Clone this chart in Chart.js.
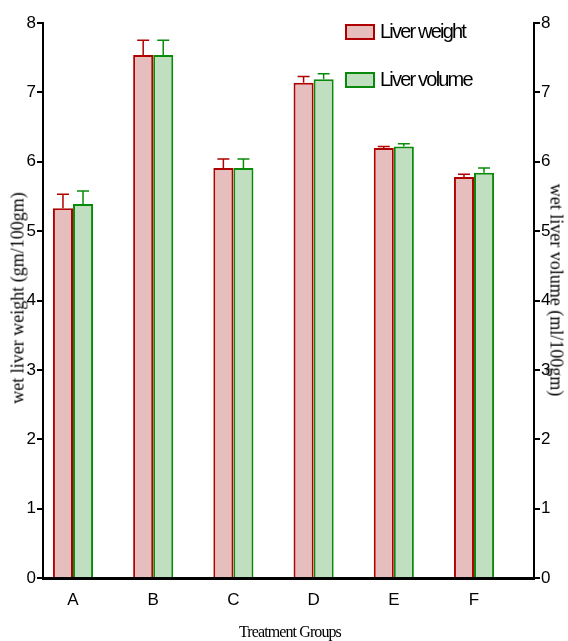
<!DOCTYPE html>
<html>
<head>
<meta charset="utf-8">
<script src="https://cdn.jsdelivr.net/npm/chart.js@4/dist/chart.umd.min.js"></script>
<style>
  body { margin: 0; background: #fff; }
  #wrap { position: relative; width: 568px; height: 641px; }
  .lbl { position: absolute; white-space: nowrap; color: #000; }
  .ytitle { font-family: "Liberation Serif", serif; font-size: 18px; transform: translate(-50%, -50%) rotate(-90deg); }
  .ytitle.right { transform: translate(-50%, -50%) rotate(90deg); }
  .xtitle { font-family: "Liberation Serif", serif; font-size: 16px; letter-spacing: -0.9px; transform: translate(-50%, -50%); }
  .leg { font-family: "Liberation Sans", Arial, sans-serif; font-size: 20px; letter-spacing: -1.8px; display: flex; align-items: center; }
  .leg span.box { display: inline-block; width: 26px; height: 12px; border: 2px solid; margin-right: 5px; }
</style>
</head>
<body>
<div id="wrap">
  <canvas id="chart"></canvas>
</div>
<script>
// categories and series
const groups = ['A', 'B', 'C', 'D', 'E', 'F'];
const weightVals = [5.33, 7.54, 5.91, 7.14, 6.20, 5.78];
const weightErr = [0.20, 0.21, 0.13, 0.09, 0.02, 0.04];
const volumeVals = [5.39, 7.54, 5.91, 7.19, 6.22, 5.84];
const volumeErr = [0.19, 0.21, 0.13, 0.08, 0.04, 0.07];
const yTicks = [0, 1, 2, 3, 4, 5, 6, 7, 8];

const seriesNames = ['Liver weight', 'Liver volume'];
const fills = ['#e6bebe', '#c0dfc0'];
const edges = ['#b00000', '#0a8a0a'];

// draw the error bars (upward only) from the data
const errorBars = {
    id: 'errorBars',
    afterDatasetsDraw(chart) {
        const ctx = chart.ctx;
        const yScale = chart.scales.y;
        chart.data.datasets.forEach((ds, di) => {
            const meta = chart.getDatasetMeta(di);
            meta.data.forEach((bar, i) => {
                const top = yScale.getPixelForValue(ds.data[i].y + ds.errors[i]);
                ctx.save();
                ctx.strokeStyle = ds.borderColor;
                ctx.lineWidth = 1.5;
                ctx.beginPath();
                ctx.moveTo(bar.x, bar.y);
                ctx.lineTo(bar.x, top);
                ctx.moveTo(bar.x - 6, top);
                ctx.lineTo(bar.x + 6, top);
                ctx.stroke();
                ctx.restore();
            });
        });
    }
};

const ctx = document.getElementById('chart').getContext('2d');
const chart = new Chart(ctx, {
    type: 'bar',
    data: {
        datasets: [
            {
                label: seriesNames[0],
                data: weightVals.map((v, i) => ({ x: i, y: v })),
                errors: weightErr,
                backgroundColor: fills[0],
                borderColor: edges[0],
                borderWidth: 2
            },
            {
                label: seriesNames[1],
                data: volumeVals.map((v, i) => ({ x: i, y: v })),
                errors: volumeErr,
                backgroundColor: fills[1],
                borderColor: edges[1],
                borderWidth: 2
            }
        ]
    },
    options: {
        responsive: true,
        maintainAspectRatio: false,
        animation: false,
        datasets: { bar: { categoryPercentage: 0.5, barPercentage: 1.0 } },
        layout: { padding: { top: 23, left: 0, right: 0, bottom: 0 } },
        plugins: { legend: { display: false }, tooltip: { enabled: false } },
        scales: {
            x: {
                type: 'linear',
                offset: false,
                min: -0.374,
                max: 5.748,
                afterBuildTicks: s => { s.ticks = groups.map((g, i) => ({ value: i })); },
                afterFit: s => { s.height = 63; },
                grid: { display: false },
                border: { display: true, color: '#000', width: 3 },
                ticks: {
                    callback: v => groups[v],
                    color: '#000',
                    padding: 4,
                    maxRotation: 0,
                    font: { family: 'Liberation Sans', size: 17 }
                }
            },
            y: {
                position: 'left',
                min: 0,
                max: 8,
                afterBuildTicks: s => { s.ticks = yTicks.map(v => ({ value: v })); },
                afterFit: s => { s.width = 43; },
                grid: { drawOnChartArea: false, color: '#000', lineWidth: 2, tickLength: 6 },
                border: { display: true, color: '#000', width: 2 },
                ticks: { color: '#000', padding: 1, font: { family: 'Liberation Sans', size: 17 } }
            },
            y1: {
                position: 'right',
                min: 0,
                max: 8,
                afterBuildTicks: s => { s.ticks = yTicks.map(v => ({ value: v })); },
                afterFit: s => { s.width = 34; },
                grid: { drawOnChartArea: false, color: '#000', lineWidth: 2, tickLength: 6 },
                border: { display: true, color: '#000', width: 2 },
                ticks: { color: '#000', padding: 1, font: { family: 'Liberation Sans', size: 17 } }
            }
        }
    },
    plugins: [errorBars]
});

// titles and legend as real text
const wrap = document.getElementById('wrap');
function addLabel(cls, text, x, y) {
    const d = document.createElement('div');
    d.className = 'lbl ' + cls;
    d.textContent = text;
    d.style.left = x + 'px';
    d.style.top = y + 'px';
    wrap.appendChild(d);
    return d;
}
addLabel('ytitle', 'wet liver weight (gm/100gm)', 18, 298);
addLabel('ytitle right', 'wet liver volume (ml/100gm)', 556, 290);
addLabel('xtitle', 'Treatment Groups', 290, 632);

const legendTops = [20, 68];
seriesNames.forEach((name, i) => {
    const d = addLabel('leg', '', 345, legendTops[i]);
    const box = document.createElement('span');
    box.className = 'box';
    box.style.background = fills[i];
    box.style.borderColor = edges[i];
    d.appendChild(box);
    d.appendChild(document.createTextNode(name));
});
</script>
</body>
</html>
